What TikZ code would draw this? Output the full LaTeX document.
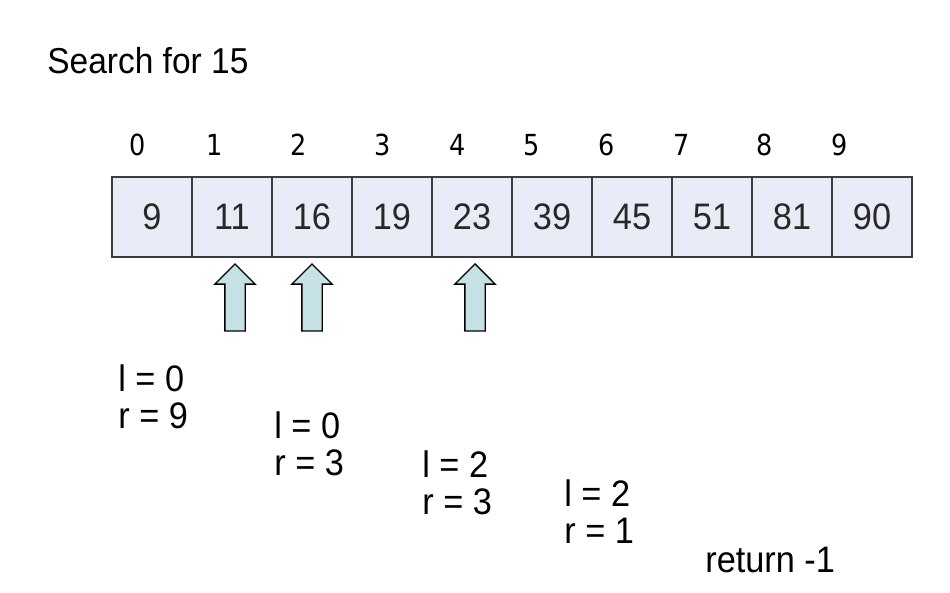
\documentclass[tikz,border=0pt]{standalone}
\usepackage{fontspec}
\setmainfont{Liberation Sans}[FakeStretch=0.93]
\newfontfamily\idxfont{DejaVu Sans}[FakeStretch=0.88]
\usetikzlibrary{shapes.arrows}
\definecolor{bsfill}{RGB}{232,236,246}
\definecolor{bsborder}{RGB}{60,60,60}
\definecolor{bsarrow}{RGB}{197,225,227}
\definecolor{bstext}{RGB}{40,40,40}
\tikzstyle{trace} = [anchor=base west, align=left, inner sep=0pt, font=\fontsize{21}{21}\selectfont]

\begin{document}
\begin{tikzpicture}[x=0.02cm, y=-0.02cm,
    cell/.style={rectangle, draw=bsborder, line width=1.2pt, fill=bsfill, minimum width=1.6cm, minimum height=1.6cm, inner sep=0pt, text=bstext, font=\fontsize{21}{24}\selectfont},
    index/.style={anchor=base, inner sep=0pt, font=\idxfont\fontsize{16.5}{18}\selectfont},
    pointer/.style={single arrow, draw=black, line width=0.8pt, fill=bsarrow, shape border rotate=90, minimum height=1.34cm, inner sep=0.19cm, single arrow head extend=0.2cm, anchor=tip}]

\useasboundingbox (0,0) rectangle (950,592);

% Title
\node[trace, font=\fontsize{20.5}{21}\selectfont] (title) at (47,73) {Search for 15};

% Indices
\node[index] (i0) at (138,155) {0};
\node[index] (i1) at (215,155) {1};
\node[index] (i2) at (299,155) {2};
\node[index] (i3) at (383,155) {3};
\node[index] (i4) at (458,155) {4};
\node[index] (i5) at (532,155) {5};
\node[index] (i6) at (607,155) {6};
\node[index] (i7) at (682,155) {7};
\node[index] (i8) at (765,155) {8};
\node[index] (i9) at (840,155) {9};

% Array cells
\node[cell] (c0) at (152,217) {9};
\node[cell] (c1) at (232,217) {11};
\node[cell] (c2) at (312,217) {16};
\node[cell] (c3) at (392,217) {19};
\node[cell] (c4) at (472,217) {23};
\node[cell] (c5) at (552,217) {39};
\node[cell] (c6) at (632,217) {45};
\node[cell] (c7) at (712,217) {51};
\node[cell] (c8) at (792,217) {81};
\node[cell] (c9) at (872,217) {90};

% Probed positions
\node[pointer] (p1) at (235,263) {};
\node[pointer] (p2) at (312,263) {};
\node[pointer] (p3) at (475,263) {};

% Bounds at each step (anchored on the second line)
\node[trace] (s1) at (118,428) {l = 0\\r = 9};
\node[trace] (s2) at (274,475) {l = 0\\r = 3};
\node[trace] (s3) at (422,514) {l = 2\\r = 3};
\node[trace] (s4) at (564,543) {l = 2\\r = 1};
\node[trace] (result) at (705,572) {return -1};
\end{tikzpicture}
\end{document}
